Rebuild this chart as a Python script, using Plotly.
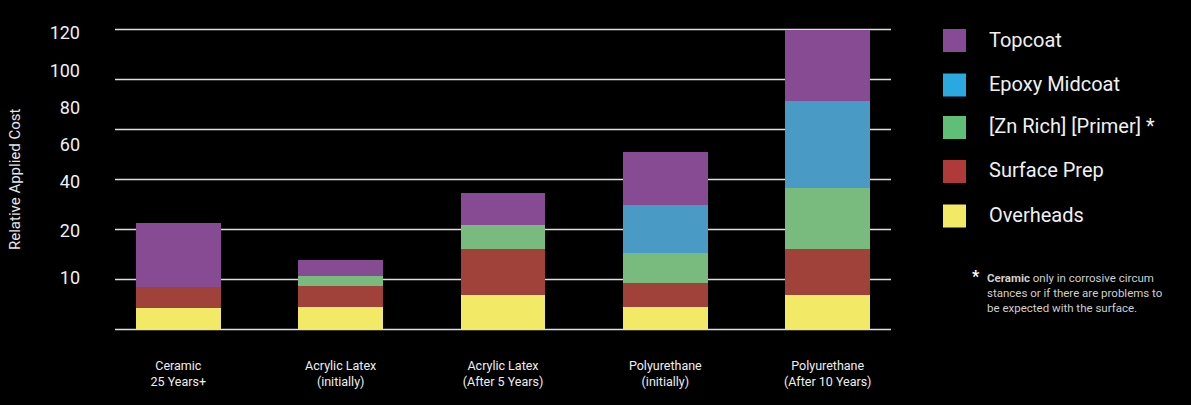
import plotly.graph_objects as go

# ---- data ----
categories = ["Ceramic<br>25 Years+", "Acrylic Latex<br>(initially)", "Acrylic Latex<br>(After 5 Years)",
              "Polyurethane<br>(initially)", "Polyurethane<br>(After 10 Years)"]
overheads = [8.5, 8.9, 13.7, 8.9, 13.7]
surface_prep = [8.4, 8.4, 18.4, 9.6, 18.4]
zn_primer = [0, 4.3, 9.6, 12.0, 24.4]
epoxy_midcoat = [0, 0, 0, 19.2, 34.8]
topcoat = [25.6, 6.1, 12.8, 21.2, 28.7]

series_names = ["Overheads", "Surface Prep", "[Zn Rich] [Primer] *", "Epoxy Midcoat", "Topcoat"]
series_values = [overheads, surface_prep, zn_primer, epoxy_midcoat, topcoat]
bar_colors = ["#f2ea66", "#a0413a", "#79ba7e", "#4a9ac6", "#874b94"]

tick_labels = ["10", "20", "40", "60", "80", "100", "120"]
tick_positions = [20.8, 39.7, 59.0, 74.0, 88.8, 103.7, 118.8]
grid_values = [0, 20, 40, 60, 80, 100, 120]

# ---- layout geometry ----
W, H = 1191, 405
ML, MR, MT, MB = 115, 300, 27, 73
PW, PH = W - ML - MR, H - MT - MB

def px_x(x):
    return (x - ML) / PW

def px_y(y):
    return 1 - (y - MT) / PH

FONT = "Roboto"

fig = go.Figure()
for name, vals, col in zip(series_names, series_values, bar_colors):
    fig.add_trace(go.Bar(x=categories, y=vals, name=name, marker=dict(color=col, line=dict(width=0)),
                         width=0.523, showlegend=False))

shapes = []
for g in grid_values:
    shapes.append(dict(type="line", xref="paper", yref="y", x0=0, x1=1, y0=g, y1=g,
                       line=dict(color="#dedede", width=1.3), layer="below"))

annotations = []
# y axis title
annotations.append(dict(text="Relative Applied Cost", textangle=-90, xref="paper", yref="paper",
                        x=px_x(15), y=px_y(179), xanchor="center", yanchor="middle", showarrow=False,
                        font=dict(family=FONT, size=15, color="#e6e6e6")))

# legend (manual)
legend_rows = [("Topcoat", 39.5), ("Epoxy Midcoat", 84), ("[Zn Rich] [Primer] *", 126.5),
               ("Surface Prep", 170.5), ("Overheads", 215)]
legend_fill = ["#874a94", "#2aa9e0", "#5fbf77", "#b03a3a", "#f2ea66"]
for (label, yc), col in zip(legend_rows, legend_fill):
    shapes.append(dict(type="rect", xref="paper", yref="paper", x0=px_x(943), x1=px_x(966),
                       y0=px_y(yc + 12.5), y1=px_y(yc - 10.5), fillcolor=col,
                       line=dict(width=0)))
    annotations.append(dict(text=label, xref="paper", yref="paper", x=px_x(987), y=px_y(yc),
                            xanchor="left", yanchor="middle", showarrow=False,
                            font=dict(family=FONT, size=20, color="#f0f0f0")))

# footnote
annotations.append(dict(text="<b>*</b>", xref="paper", yref="paper", x=px_x(976), y=px_y(276),
                        xanchor="center", yanchor="middle", showarrow=False,
                        font=dict(family=FONT, size=16, color="#ffffff")))
annotations.append(dict(text="<b>Ceramic</b> only in corrosive circum<br>stances or if there are problems to<br>be expected with the surface.",
                        xref="paper", yref="paper", x=px_x(985), y=px_y(269), xanchor="left", yanchor="top",
                        align="left", showarrow=False,
                        font=dict(family=FONT, size=11.5, color="#cfcfcf")))

fig.update_layout(
    width=W, height=H,
    margin=dict(l=ML, r=MR, t=MT, b=MB, pad=0),
    paper_bgcolor="#000000", plot_bgcolor="#000000",
    barmode="stack",
    shapes=shapes, annotations=annotations,
    xaxis=dict(type="category", range=[-0.39, 4.39], showgrid=False, zeroline=False, showline=False,
               ticks="", ticklabelstandoff=24,
               tickfont=dict(family=FONT, size=12.5, color="#eeeeee")),
    yaxis=dict(range=[-1, 121], tickmode="array", tickvals=tick_positions, ticktext=tick_labels,
               showgrid=False, zeroline=False, showline=False, ticks="", ticklabelstandoff=34,
               tickfont=dict(family=FONT, size=18, color="#f0f0f0")),
    font=dict(family=FONT),
)

fig.write_html("out.html", config={"displayModeBar": False},
               post_script="document.body.style.margin='0';document.body.style.background='#000';")
